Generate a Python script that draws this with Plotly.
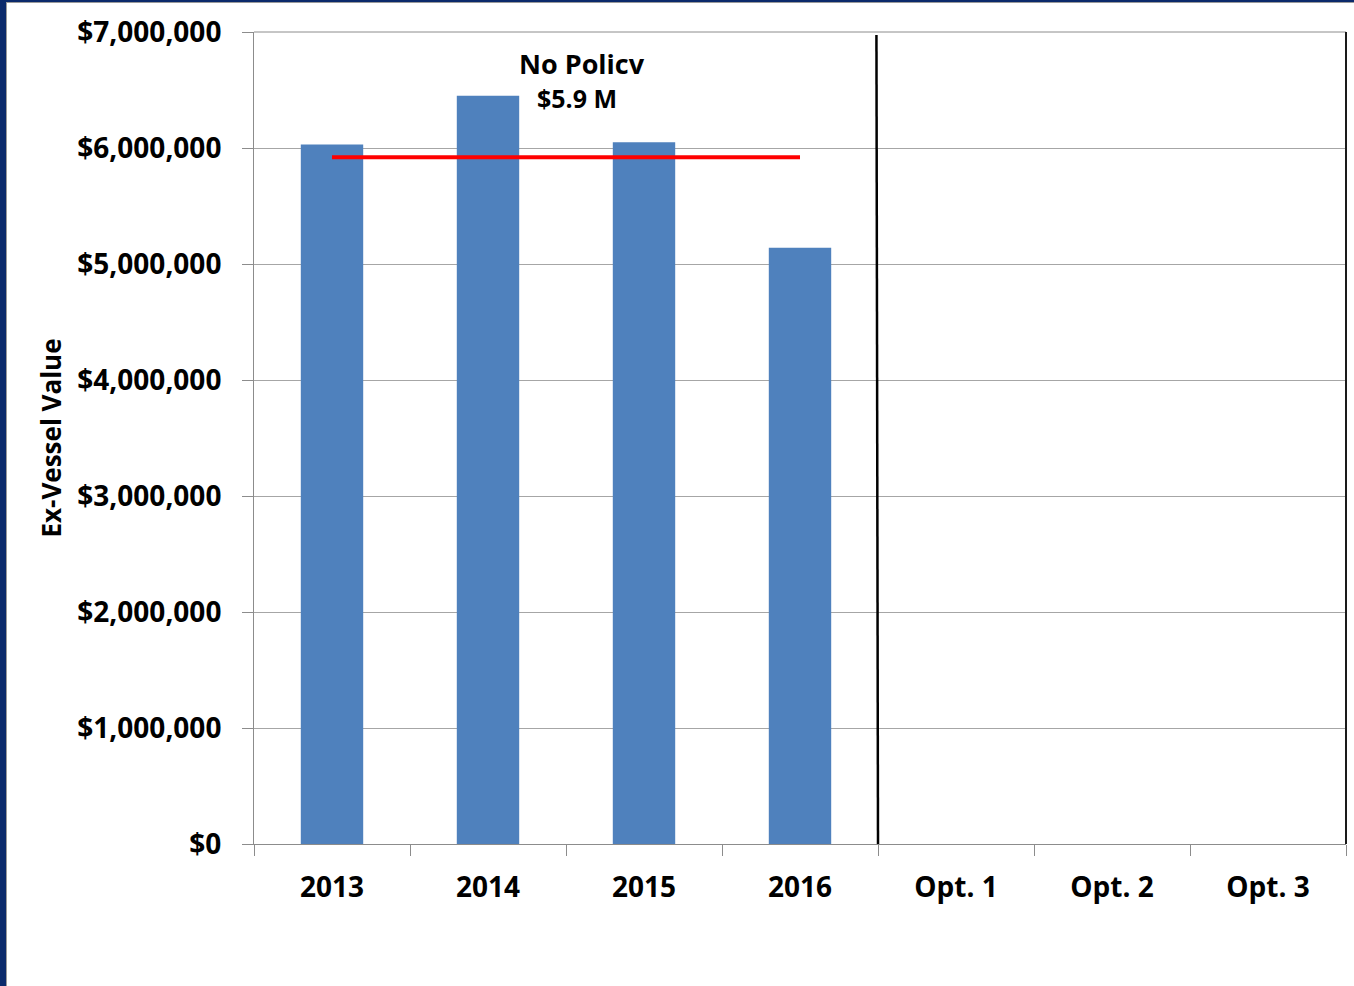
import plotly.graph_objects as go

categories = ["2013", "2014", "2015", "2016", "Opt. 1", "Opt. 2", "Opt. 3"]
year_labels = ["2013", "2014", "2015", "2016"]
ex_vessel_values = [6030000, 6450000, 6050000, 5140000]
no_policy_avg = 5920000
annotation_title = "No Policv"
annotation_value = "$5.9 M"

W, H = 1354, 986
L, R, T, B = 254, 8, 32, 142
pw, ph = W - L - R, H - T - B

FONT = "Open Sans"

fig = go.Figure()
fig.add_trace(go.Bar(x=year_labels, y=ex_vessel_values, marker_color="#4F81BD",
                     marker_line_width=0, width=0.4, showlegend=False))
fig.add_trace(go.Scatter(x=[year_labels[0], year_labels[-1]],
                         y=[no_policy_avg, no_policy_avg], mode="lines",
                         line=dict(color="#FF0000", width=4), showlegend=False))

fig.update_layout(
    width=W, height=H,
    margin=dict(l=L, r=R, t=T, b=B, pad=0),
    paper_bgcolor="white", plot_bgcolor="white",
    font=dict(family=FONT, color="black"),
    bargap=0.6,
)
fig.update_xaxes(
    type="category", categoryorder="array", categoryarray=categories,
    range=[-0.5, len(categories) - 0.5],
    showline=True, linecolor="#8C8C8C", linewidth=1,
    ticks="outside", tickson="boundaries", ticklen=11, tickcolor="#8C8C8C",
    ticklabelstandoff=18,
    showgrid=False,
    tickfont=dict(family=FONT, size=28, color="black", weight="bold"),
)
fig.update_yaxes(
    range=[0, 7000000], dtick=1000000, tickprefix="$", tickformat=",",
    showline=True, linecolor="#8C8C8C", linewidth=1,
    ticks="outside", ticklen=11, tickcolor="#8C8C8C",
    ticklabelstandoff=15,
    showgrid=True, gridcolor="#A6A6A6", gridwidth=1,
    tickfont=dict(family=FONT, size=28, color="black", weight="bold"),
    title=dict(text="Ex-Vessel Value", standoff=8,
               font=dict(family=FONT, size=26, color="black", weight="bold")),
    zeroline=False,
)

# plot border: top grey, right black
fig.add_shape(type="line", xref="paper", yref="paper", x0=0, x1=1, y0=1, y1=1,
              line=dict(color="#8C8C8C", width=1))
fig.add_shape(type="line", xref="paper", yref="paper", x0=1, x1=1, y0=0, y1=1,
              line=dict(color="#1A1A1A", width=2))
# divider between years and options
fig.add_shape(type="line", xref="x", yref="y", x0=3.49, x1=3.5, y0=6975000, y1=0,
              line=dict(color="black", width=2.5))

# window frame (navy strips)
fig.add_shape(type="rect", xref="paper", yref="paper",
              x0=-L / pw, x1=(6 - L) / pw, y0=-B / ph, y1=(H - B) / ph,
              line_width=0, fillcolor="#0B2A6B")
fig.add_shape(type="rect", xref="paper", yref="paper",
              x0=(6 - L) / pw, x1=(7 - L) / pw, y0=-B / ph, y1=(H - B - 2) / ph,
              line_width=0, fillcolor="#9A9A9A")
fig.add_shape(type="rect", xref="paper", yref="paper",
              x0=-L / pw, x1=1 + R / pw, y0=(H - B - 2) / ph, y1=(H - B) / ph,
              line_width=0, fillcolor="#0B2A6B")
fig.add_shape(type="rect", xref="paper", yref="paper",
              x0=(6 - L) / pw, x1=1 + R / pw, y0=(H - B - 3) / ph, y1=(H - B - 2) / ph,
              line_width=0, fillcolor="#9A9A9A")

fig.add_annotation(x=1.6, y=6730000, xref="x", yref="y", text=annotation_title,
                   showarrow=False, font=dict(family=FONT, size=27, color="black", weight="bold"))
fig.add_annotation(x=1.57, y=6430000, xref="x", yref="y", text=annotation_value,
                   showarrow=False, font=dict(family=FONT, size=25, color="black", weight="bold"))

fig.write_html("out.html", config={"displayModeBar": False},
               post_script="document.body.style.margin='0';")
